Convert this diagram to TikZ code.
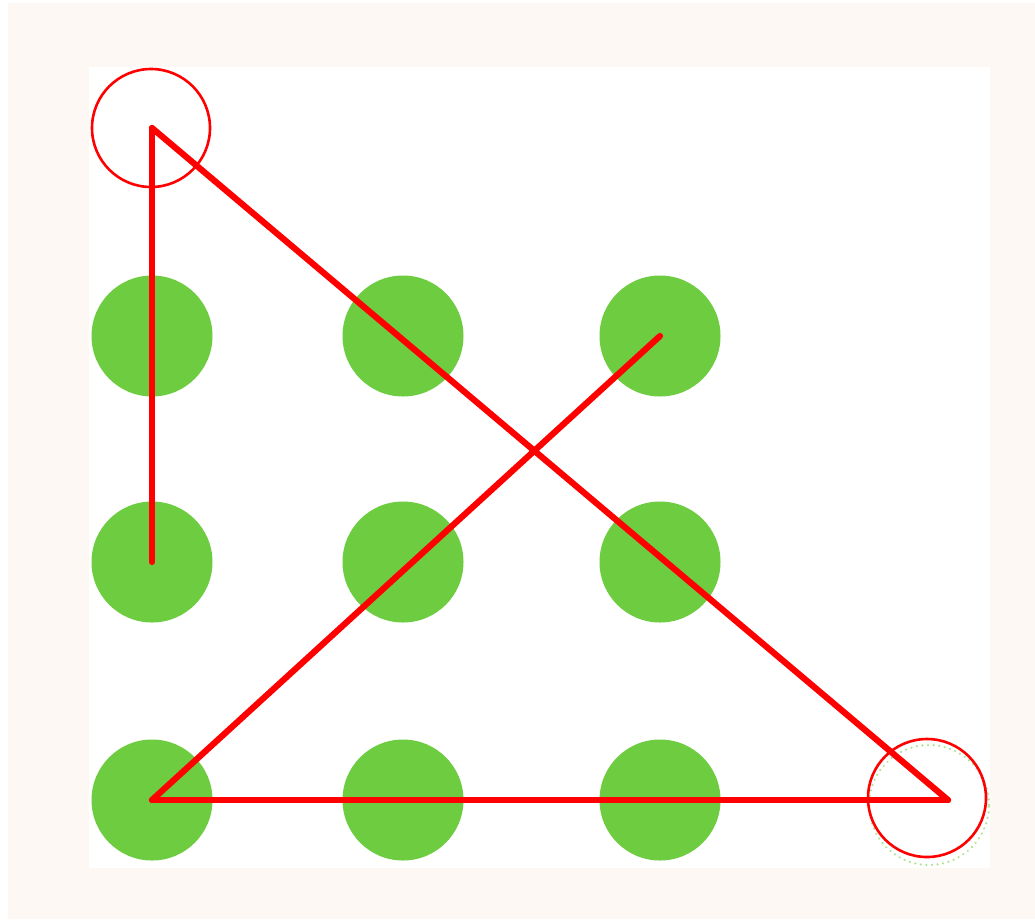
\documentclass[tikz,border=0pt]{standalone}
\definecolor{cream}{HTML}{FDF8F3}
\definecolor{padgreen}{HTML}{6DCC40}
\definecolor{tracered}{HTML}{FF0000}
\tikzset{
  pad/.style={circle, fill=padgreen, minimum size=121pt, inner sep=0pt},
  ring/.style={circle, draw=tracered, line width=2.6pt, minimum size=118pt, inner sep=0pt},
  trace/.style={draw=tracered, line width=6.2pt, line cap=round, line join=round}
}
\begin{document}
\begin{tikzpicture}[x=1pt,y=-1pt]
\useasboundingbox (0,0) rectangle (1035,919);
\fill[white] (0,0) rectangle (1035,919);
\fill[cream] (8,3) rectangle (1035,919);
\fill[white] (89,67) rectangle (990,868);
% grid of pads
\node[pad] (p11) at (152,336) {};
\node[pad] (p12) at (403,336) {};
\node[pad] (p13) at (660,336) {};
\node[pad] (p21) at (152,562) {};
\node[pad] (p22) at (403,562) {};
\node[pad] (p23) at (660,562) {};
\node[pad] (p31) at (152,800) {};
\node[pad] (p32) at (403,800) {};
\node[pad] (p33) at (660,800) {};
% touch markers
\node[circle, draw=padgreen!55, line width=2.4pt, line cap=round, dash pattern=on 0.1pt off 5.5pt, minimum size=120pt, inner sep=0pt] (ghost) at (929,805) {};
\node[ring] (start) at (151,128) {};
\node[ring] (stop) at (927,798) {};
\coordinate (top) at (152,128);
\coordinate (tip) at (948,800);
% trace
\draw[trace] (top) -- (p21.center);
\draw[trace] (top) -- (tip);
\draw[trace] (p31.center) -- (tip);
\draw[trace] (p31.center) -- (p13.center);
\end{tikzpicture}
\end{document}
